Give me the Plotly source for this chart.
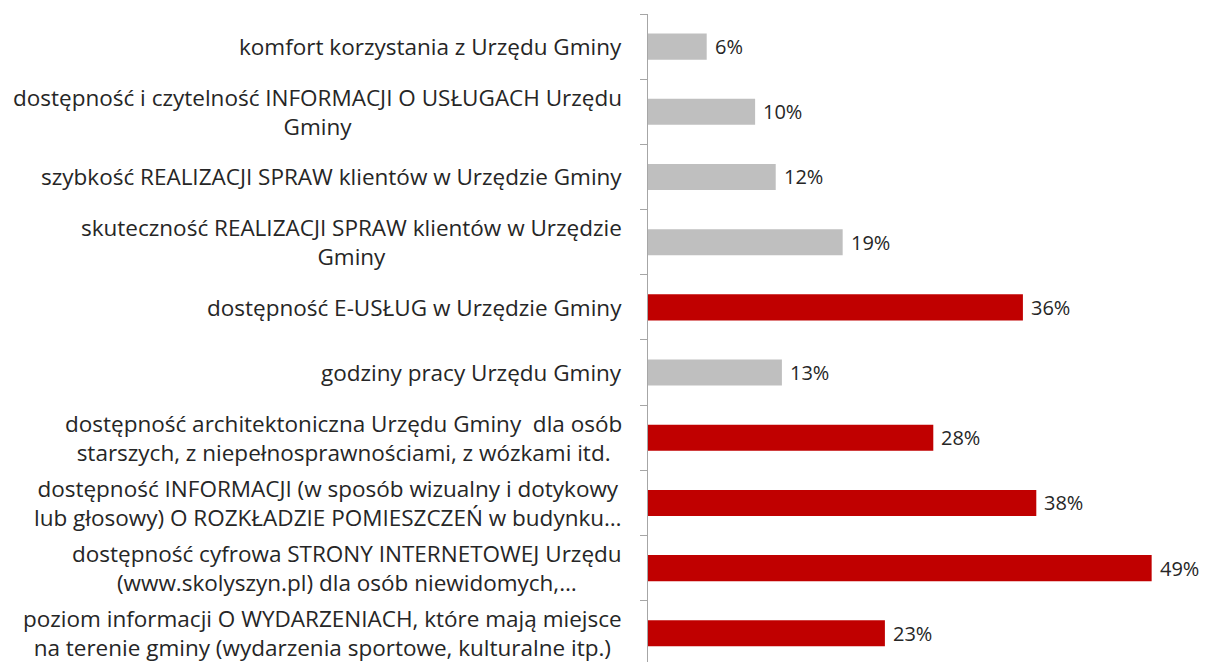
import plotly.graph_objects as go

categories = [
    "komfort korzystania z Urzędu Gminy",
    "dostępność i czytelność INFORMACJI O USŁUGACH Urzędu<br>Gminy",
    "szybkość REALIZACJI SPRAW klientów w Urzędzie Gminy",
    "skuteczność REALIZACJI SPRAW klientów w Urzędzie<br>Gminy",
    "dostępność E-USŁUG w Urzędzie Gminy",
    "godziny pracy Urzędu Gminy",
    "dostępność architektoniczna Urzędu Gminy  dla osób<br>starszych, z niepełnosprawnościami, z wózkami itd.",
    "dostępność INFORMACJI (w sposób wizualny i dotykowy<br>lub głosowy) O ROZKŁADZIE POMIESZCZEŃ w budynku…",
    "dostępność cyfrowa STRONY INTERNETOWEJ Urzędu<br>(www.skolyszyn.pl) dla osób niewidomych,…",
    "poziom informacji O WYDARZENIACH, które mają miejsce<br>na terenie gminy (wydarzenia sportowe, kulturalne itp.)",
]
values = [5.7, 10.4, 12.4, 18.9, 36.4, 13.0, 27.7, 37.7, 48.9, 23.0]
highlight = [False, False, False, False, True, False, True, True, True, True]

GRAY = "#BFBFBF"
RED = "#C00000"
TEXT = "#262626"
FONT = "Open Sans"

colors = [RED if h else GRAY for h in highlight]

fig = go.Figure()
fig.add_trace(go.Bar(
    y=categories,
    x=values,
    orientation="h",
    marker=dict(color=colors, line=dict(width=0)),
    width=0.4,
    hoverinfo="skip",
))

annotations = []
for cat, v in zip(categories, values):
    annotations.append(dict(
        x=0, y=cat, xref="x", yref="y", text=cat,
        xanchor="right", yanchor="middle", align="center",
        xshift=-24, showarrow=False,
        font=dict(family=FONT, size=22.5, color=TEXT),
    ))
    annotations.append(dict(
        x=v, y=cat, xref="x", yref="y", text=f"{round(v)}%",
        xanchor="left", yanchor="middle", xshift=7,
        showarrow=False, borderpad=0,
        font=dict(family=FONT, size=20, color=TEXT),
    ))

fig.update_layout(
    width=1200, height=654,
    margin=dict(l=640, r=0, t=6, b=0),
    paper_bgcolor="white", plot_bgcolor="white",
    showlegend=False,
    annotations=annotations,
    xaxis=dict(range=[0, 54.37], visible=False, fixedrange=True),
    yaxis=dict(
        type="category",
        range=[9.44, -0.5],
        showticklabels=False,
        tickson="boundaries",
        ticks="outside", ticklen=7, tickcolor="#A6A6A6", tickwidth=1,
        showline=True, linecolor="#A6A6A6", linewidth=1,
        showgrid=False, zeroline=False,
    ),
)

fig.write_html("out.html")
